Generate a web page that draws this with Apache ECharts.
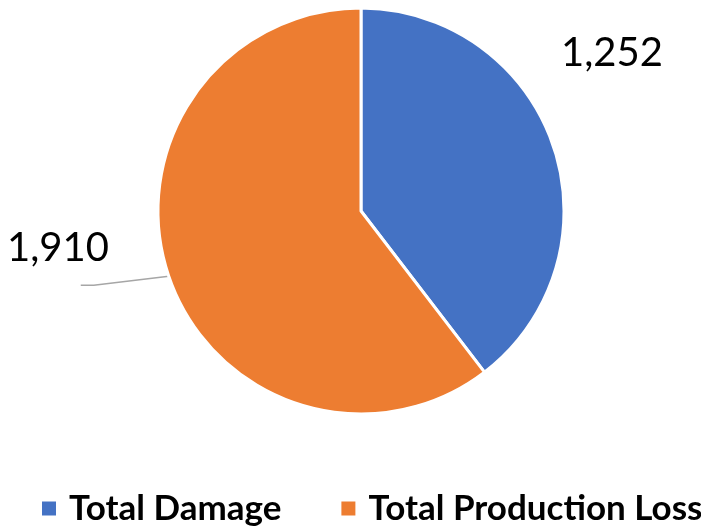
<!DOCTYPE html>
<html><head><meta charset="utf-8">
<script src="https://cdn.jsdelivr.net/npm/echarts@6/dist/echarts.min.js"></script>
<style>html,body{margin:0;padding:0;background:#fff}#c{width:701px;height:526px}</style>
</head><body><div id="c"></div>
<script>
const categories = ['Total Damage', 'Total Production Loss'];
const values = [1252, 1910];
const colors = ['#4472C4', '#ED7D31'];

const chart = echarts.init(document.getElementById('c'));
chart.setOption({
  animation: false,
  legend: {
    bottom: -5,
    left: 35,
    width: 690,
    padding: 5,
    itemWidth: 16, itemHeight: 16, itemGap: 58,
    icon: 'rect',
    textStyle: { fontFamily: 'Lato', fontWeight: 'bold', fontSize: 35, color: '#000', padding: [0, 0, 0, 7] },
    data: categories
  },
  series: [{
    type: 'pie',
    center: [361, 211],
    radius: 203,
    startAngle: 90,
    clockwise: true,
    itemStyle: { borderColor: '#fff', borderWidth: 3 },
    label: { show: true, position: 'outside', fontFamily: 'Lato', fontSize: 40, color: '#000',
      formatter: p => p.value.toLocaleString('en-US') },
    labelLine: { show: true, lineStyle: { color: '#a6a6a6', width: 1.5 }, length: 8, length2: 12 },
    labelLayout: function (p) {
      if (p.dataIndex === 0) return { x: 612, y: 53, align: 'center', verticalAlign: 'middle' };
      const pts = p.labelLinePoints;
      if (pts) {
        const a = pts[0];
        const b = [a[0] - 75, a[1] + 9];
        const c = [b[0] - 13, b[1]];
        return { x: 58, y: 248, align: 'center', verticalAlign: 'middle', labelLinePoints: [a, b, c] };
      }
      return { x: 58, y: 248, align: 'center', verticalAlign: 'middle' };
    },
    data: categories.map((n, i) => ({
      name: n, value: values[i], itemStyle: { color: colors[i] },
      labelLine: { show: i === 1 }
    }))
  }]
});
</script></body></html>
